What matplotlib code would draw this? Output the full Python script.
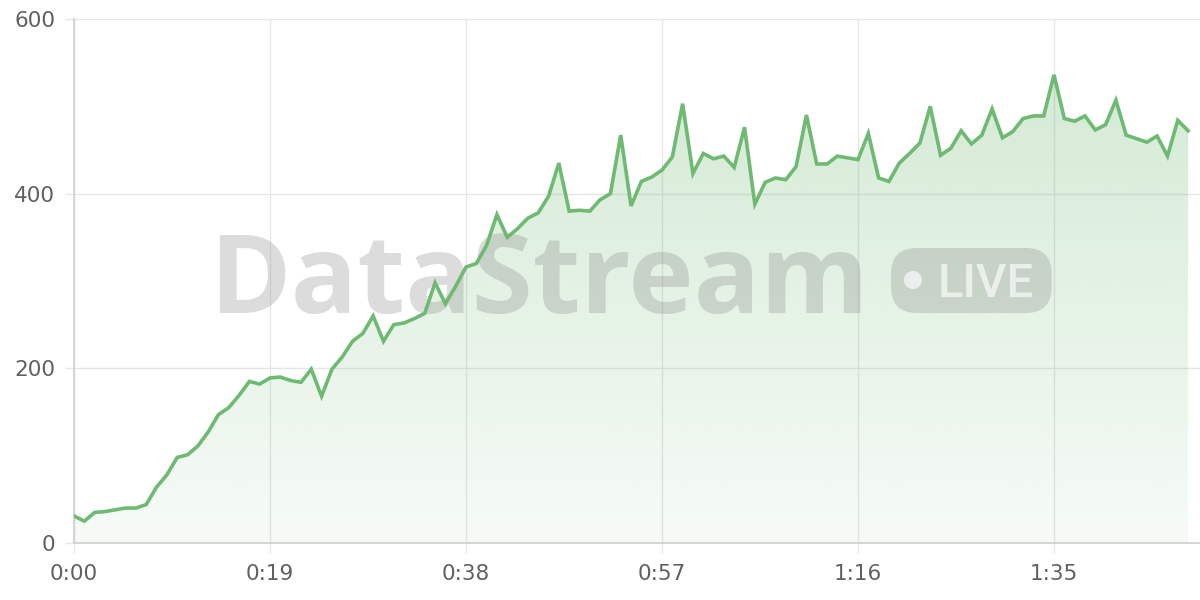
import matplotlib
matplotlib.use("Agg")
import matplotlib.pyplot as plt
import numpy as np
from matplotlib.patches import FancyBboxPatch, Circle

# throughput samples, one per second
seconds = list(range(109))
values = [
    31, 25, 35, 36, 38, 40, 40, 44, 64, 78, 98, 101, 111, 127, 147, 155, 169, 185, 182,
    189, 190, 186, 184, 199, 168, 199, 213, 231, 240, 260, 231, 250, 252, 257, 263, 298, 274,
    294, 316, 320, 341, 376, 350, 360, 372, 378, 397, 435, 380, 381, 380, 393, 400, 467, 386,
    414, 419, 427, 442, 503, 423, 446, 440, 443, 430, 476, 388, 413, 418, 416, 431, 490, 434, 434,
    443, 441, 439, 469, 418, 414, 435, 446, 458, 500, 444, 452, 472, 457, 467, 497, 464, 471,
    486, 489, 489, 536, 486, 483, 489, 473, 479, 507, 467, 463, 459, 466, 443, 484, 472,
]
x_ticks = [0, 19, 38, 57, 76, 95]
y_ticks = [0, 200, 400, 600]

line_color = "#6fba73"
grid_color = "#e6e6e6"
label_color = "#606060"

fig = plt.figure(figsize=(12, 6), dpi=100)
ax = fig.add_axes([74 / 1200, 57 / 600, 1126 / 1200, 524 / 600])

x = np.array(seconds)
y = np.array(values)

# gradient area under the line
poly = ax.fill_between(x, 0, y, facecolor="none", edgecolor="none", zorder=1)
rgb = matplotlib.colors.to_rgb(line_color)
grad = np.zeros((256, 1, 4))
grad[..., 0], grad[..., 1], grad[..., 2] = rgb
grad[:, 0, 3] = np.linspace(0.06, 0.30, 256)
im = ax.imshow(grad, extent=[x[0], x[-1], 0, y.max()], origin="lower",
               aspect="auto", zorder=1, interpolation="bilinear")
im.set_clip_path(poly.get_paths()[0], transform=ax.transData)

ax.plot(x, y, color=line_color, lw=2.6, zorder=4, solid_joinstyle="miter")

ax.set_xlim(0, 1126 / (196 / 19))
ax.set_ylim(0, 600)
ax.set_xticks(x_ticks)
ax.set_xticklabels([f"{s // 60}:{s % 60:02d}" for s in x_ticks])
ax.set_yticks(y_ticks)
ax.grid(True, color=grid_color, lw=1, zorder=0)
ax.set_axisbelow(True)

for side in ["top", "right"]:
    ax.spines[side].set_visible(False)
for side in ["left", "bottom"]:
    ax.spines[side].set_color("#cfcfcf")
    ax.spines[side].set_linewidth(1.2)
    ax.spines[side].set_zorder(2)

ax.tick_params(axis="x", length=7, width=1, color=grid_color, pad=8,
               labelsize=15.5, labelcolor=label_color)
ax.tick_params(axis="y", length=6.5, width=1, color=grid_color, pad=7,
               labelsize=15.5, labelcolor=label_color)

# watermark, drawn between the area and the line
wm_gray = (0.5, 0.5, 0.5)
ax.text(209 / 100, (600 - 313) / 100, "DataStream", transform=fig.dpi_scale_trans,
        fontsize=79.5, fontweight="bold", family="Open Sans", color=wm_gray, alpha=0.27,
        ha="left", va="baseline", zorder=3)
badge = FancyBboxPatch((8.91, 2.87), 1.607, 0.65,
                       boxstyle="round,pad=0,rounding_size=0.26",
                       transform=fig.dpi_scale_trans, facecolor=wm_gray,
                       edgecolor="none", alpha=0.27, zorder=3, clip_on=False)
ax.add_patch(badge)
ax.add_patch(Circle((9.13, 3.20), 0.09, transform=fig.dpi_scale_trans,
                    facecolor="white", edgecolor="none", alpha=0.65, zorder=3,
                    clip_on=False))
ax.text(9.38, (600 - 297) / 100, "LIVE", transform=fig.dpi_scale_trans,
        fontsize=34, fontweight="medium", family="Roboto", color="white", alpha=0.65,
        ha="left", va="baseline", zorder=3)

fig.savefig("out.png", dpi=100)
